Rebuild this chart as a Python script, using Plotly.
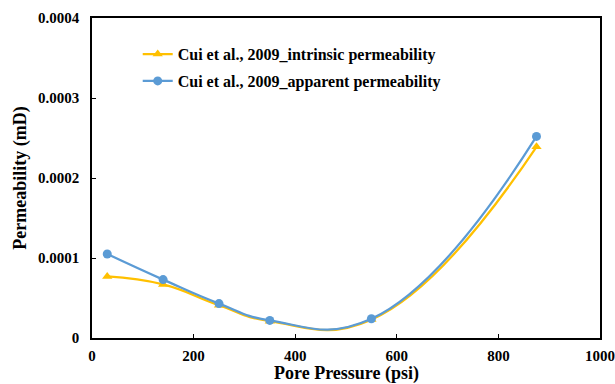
import plotly.graph_objects as go

pressure = [30, 140, 250, 350, 550, 875]
intrinsic = [0.000077, 0.000067, 0.000041, 0.000021, 0.000023, 0.000239]
apparent = [0.000105, 0.000073, 0.000043, 0.000022, 0.000024, 0.000252]
y_ticks = [0, 0.0001, 0.0002, 0.0003, 0.0004]
y_tick_labels = ["0", "0.0001", "0.0002", "0.0003", "0.0004"]
x_ticks = [0, 200, 400, 600, 800, 1000]

font_family = "Liberation Serif"

fig = go.Figure()
fig.add_trace(go.Scatter(
    x=pressure, y=intrinsic, mode="lines+markers",
    name="<b>Cui et al., 2009_intrinsic permeability</b>",
    legendgroup="a",
    line=dict(color="#FFC000", width=2.25, shape="spline", smoothing=1.3),
    marker=dict(symbol="triangle-up", size=9, color="#FFC000"),
))
fig.add_trace(go.Scatter(
    x=pressure, y=apparent, mode="lines+markers",
    name="<b>Cui et al., 2009_apparent permeability</b>",
    legendgroup="b",
    line=dict(color="#5B9BD5", width=2.25, shape="spline", smoothing=1.3),
    marker=dict(symbol="circle", size=9, color="#5B9BD5"),
))

fig.add_annotation(
    text="<b>Pore Pressure (psi)</b>", xref="paper", yref="paper",
    x=0.5, y=-0.112, xanchor="center", yanchor="middle", showarrow=False,
    font=dict(family=font_family, size=18, color="black"), borderpad=0,
)

fig.update_layout(
    width=615, height=384,
    margin=dict(l=92, r=15, t=18, b=46),
    paper_bgcolor="white", plot_bgcolor="white",
    font=dict(family=font_family, color="black", size=12),
    showlegend=True,
    legend=dict(
        x=0.09, y=0.94, xanchor="left", yanchor="top",
        bgcolor="rgba(0,0,0,0)",
        font=dict(family=font_family, size=16, color="black"),
        traceorder="grouped", tracegroupgap=3, itemwidth=30,
    ),
    xaxis=dict(
        range=[0, 1000], tickvals=x_ticks, automargin=False,
        showline=True, linecolor="black", linewidth=1.5, mirror=True,
        ticks="inside", ticklen=4, tickcolor="black", showgrid=False, zeroline=False,
        ticklabelstandoff=3,
        tickfont=dict(family=font_family, size=15, color="black", weight="bold"),
    ),
    yaxis=dict(
        range=[0, 0.0004], tickvals=y_ticks, ticktext=y_tick_labels, automargin=False,
        showline=True, linecolor="black", linewidth=1.5, mirror=True,
        ticks="inside", ticklen=4, tickcolor="black", showgrid=False, zeroline=False,
        ticklabelstandoff=8,
        tickfont=dict(family=font_family, size=15, color="black", weight="bold"),
        title=dict(text="<b>Permeability (mD)</b>", font=dict(family=font_family, size=18), standoff=7),
    ),
)

fig.write_html("out.html")
